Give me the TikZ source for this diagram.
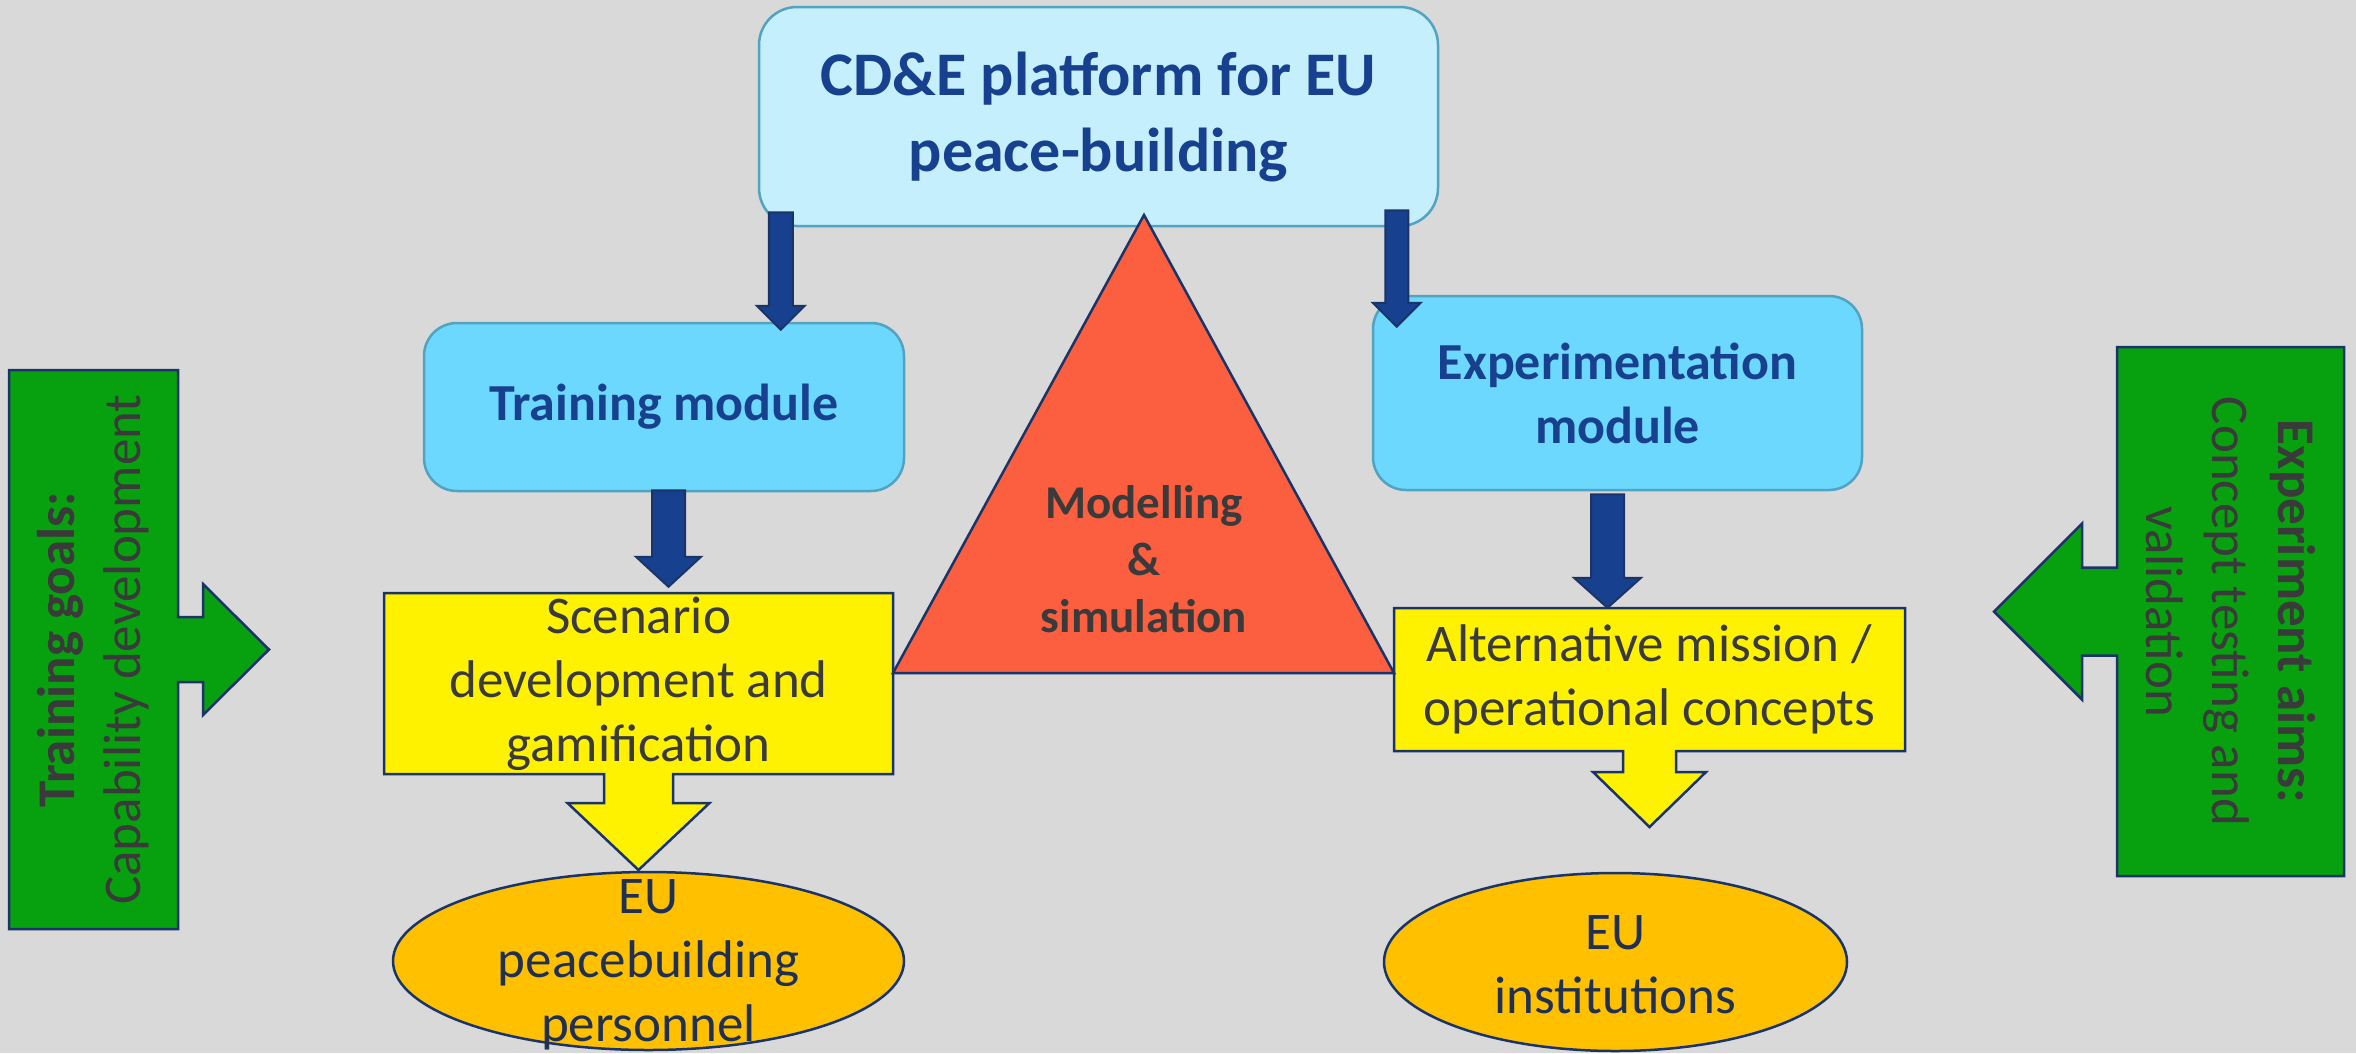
\documentclass[tikz,border=0pt]{standalone}
\usepackage{fontspec}
\setmainfont{Carlito}
\usepackage{tikz}
\usetikzlibrary{calc,positioning,shapes,backgrounds}
\definecolor{canvas}{HTML}{D9D9D9}
\definecolor{paleblue}{HTML}{C5EFFC}
\definecolor{skyblue}{HTML}{6DD8FD}
\definecolor{rim}{HTML}{52A2C2}
\definecolor{darkblue}{HTML}{17408F}
\definecolor{navy}{HTML}{1B3468}
\definecolor{modelred}{HTML}{FB5F40}
\definecolor{amber}{HTML}{FFC000}
\definecolor{leafgreen}{HTML}{07A110}
\definecolor{ink}{HTML}{3A3A3A}
\definecolor{navytext}{HTML}{1F3050}
\tikzset{%
	platform/.style  = {draw=rim, line width=2.5pt, fill=paleblue, rounded corners=38pt, minimum width=679pt, minimum height=219pt, inner sep=0pt, align=center, text=darkblue, font=\fontsize{62}{76}\selectfont\bfseries},
	module/.style    = {draw=rim, line width=2.5pt, fill=skyblue, rounded corners=33pt, inner sep=0pt, align=center, text=darkblue, font=\fontsize{52}{64}\selectfont\bfseries},
	outcome/.style   = {inner sep=0pt, align=center, text=ink, font=\fontsize{53}{64}\selectfont},
	target/.style    = {ellipse, draw=navy, line width=2.5pt, fill=amber, inner sep=0pt},
	targettext/.style= {inner sep=0pt, align=center, text=navytext, font=\fontsize{53}{64}\selectfont},
	modeltext/.style = {inner sep=0pt, align=center, text=ink, font=\fontsize{47}{57}\selectfont\bfseries},
	aim/.style       = {inner sep=0pt, align=center, text=ink, font=\fontsize{53}{66}\selectfont},
	blockblue/.style = {draw=navy, line width=2pt, fill=darkblue},
	blockyellow/.style = {draw=navy, line width=2.5pt, fill=yellow},
	blockgreen/.style  = {draw=navy, line width=2.5pt, fill=leafgreen},
	model/.style     = {draw=navy, line width=2.5pt, fill=modelred},
}
% start, tip, shaft half width, head half width, head length
\newcommand{\blockdown}[5]{%
	\draw[blockblue] let \p1=(#1), \p2=(#2) in
		(\x1-#3pt,\y1) -- (\x1-#3pt,\y2+#5pt) -- (\x1-#4pt,\y2+#5pt) -- (\x1,\y2)
		-- (\x1+#4pt,\y2+#5pt) -- (\x1+#3pt,\y2+#5pt) -- (\x1+#3pt,\y1) -- cycle;}

\begin{document}
\begin{tikzpicture}[x=1pt,y=-1pt]
	\useasboundingbox (0,0) rectangle (2356,1053);
	\begin{pgfonlayer}{background}
		\fill[canvas] (0,0) rectangle (2356,1053);
	\end{pgfonlayer}
	
	\node[platform] (cde) at (1098.5,116.5) {CD\&E platform for EU\\peace-building};
	\node[module, minimum width=480pt, minimum height=168pt] (train) at (664,407) {Training module};
	\node[module, minimum width=489pt, minimum height=194pt] (exper) at (1617.5,393) {Experimentation\\module};
	
	\coordinate (apex) at (1144,215);
	\coordinate (ml) at (893,673);
	\coordinate (mr) at (1394,673);
	\draw[model] (apex) -- (ml) -- (mr) -- cycle;
	\node[modeltext] (ms) at (1144,559) {Modelling\\\&\\simulation};
	
	\node[outcome, minimum width=509pt, minimum height=181pt] (scen) at (638.5,683.5) {Scenario\\development and\\gamification};
	\node[outcome, minimum width=511pt, minimum height=143pt] (alt) at (1649.5,679.5) {Alternative mission /\\operational concepts};
	
	\node[target, minimum width=511pt, minimum height=178pt] (pers) at (648.5,961) {};
	\node[targettext] (perslabel) at ([yshift=-4pt]pers.center) {EU\\peacebuilding\\personnel};
	\node[target, minimum width=463pt, minimum height=178pt] (inst) at (1615.5,962) {};
	\node[targettext] (instlabel) at ([yshift=-3pt]inst.center) {EU\\institutions};
	
	\node[aim, rotate=90] (goals) at (93.5,649.5) {\textbf{Training goals:}\\Capability development};
	\node[aim, rotate=-90] (aims) at (2230.5,611.5) {\textbf{Experiment aims:}\\Concept testing and\\validation};
	
	\coordinate (a1) at ([shift={(23,-15)}]cde.south west);
	\coordinate (a1t) at ($(a1 |- train.north)+(0,8)$);
	\coordinate (a2) at ([shift={(-42.5,-17)}]cde.south east);
	\coordinate (a2t) at ($(a2 |- exper.north)+(0,32)$);
	\coordinate (a3) at ([shift={(4.5,-2)}]train.south);
	\coordinate (a3t) at ($(a3 |- scen.north)+(0,-6)$);
	\coordinate (a4) at ([shift={(-10,3)}]exper.south);
	\coordinate (a4t) at (a4 |- alt.north);
	\blockdown{a1}{a1t}{12}{24}{24}
	\blockdown{a2}{a2t}{11.5}{24}{24}
	\blockdown{a3}{a3t}{16.5}{32.5}{30}
	\blockdown{a4}{a4t}{16.5}{33.5}{30}
	
	\begin{pgfonlayer}{background}
		\draw[blockyellow, shift={(scen.center)}] (-254.5,-90.5) -- (254.5,-90.5) -- (254.5,90.5) -- (34.5,90.5) -- (34.5,119.5) -- (71,119.5) -- (0,186.5) -- (-71,119.5) -- (-34.5,119.5) -- (-34.5,90.5) -- (-254.5,90.5) -- cycle;
		\draw[blockyellow, shift={(alt.center)}] (-255.5,-71.5) -- (255.5,-71.5) -- (255.5,71.5) -- (26.5,71.5) -- (26.5,92.5) -- (56.5,92.5) -- (0,147.5) -- (-56.5,92.5) -- (-26.5,92.5) -- (-26.5,71.5) -- (-255.5,71.5) -- cycle;
		\draw[blockgreen, shift={(goals.center)}] (-84.5,-279.5) -- (84.5,-279.5) -- (84.5,-32.5) -- (109.5,-32.5) -- (109.5,-65.5) -- (175.5,0) -- (109.5,65.5) -- (109.5,32.5) -- (84.5,32.5) -- (84.5,279.5) -- (-84.5,279.5) -- cycle;
		\draw[blockgreen, shift={(aims.center)}] (-113.5,-264.5) -- (113.5,-264.5) -- (113.5,264.5) -- (-113.5,264.5) -- (-113.5,44) -- (-148.5,44) -- (-148.5,88) -- (-236.5,0) -- (-148.5,-88) -- (-148.5,-44) -- (-113.5,-44) -- cycle;
	\end{pgfonlayer}
	
\end{tikzpicture}
\end{document}
